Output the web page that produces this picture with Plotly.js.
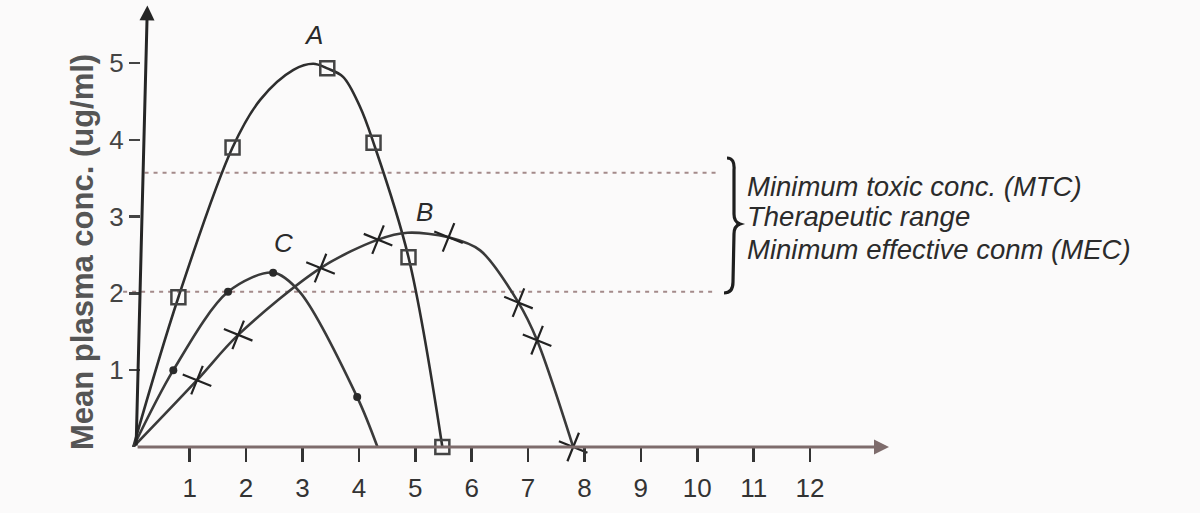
<!DOCTYPE html>
<html>
<head>
<meta charset="utf-8">
<script src="https://cdn.plot.ly/plotly-3.0.1.min.js"></script>
<style>html,body{margin:0;padding:0;background:#fbfafa;}</style>
</head>
<body>
<div id="chart" style="width:1200px;height:513px;"></div>
<script>
// ---- data (time in h, conc in ug/ml) ----
const xTicks = [1,2,3,4,5,6,7,8,9,10,11,12];
const yTicks = [1,2,3,4,5];

// Curve A (squares)
const aLineT = [0, 0.80, 1.76, 2.25, 2.84, 3.19, 3.44, 3.72, 4.02, 4.26, 4.88, 5.48];
const aLineC = [0, 1.95, 3.90, 4.52, 4.91, 4.99, 4.93, 4.82, 4.43, 3.96, 2.47, 0];
const aMarkT = [0.80, 1.76, 3.44, 4.26, 4.88, 5.48];
const aMarkC = [1.95, 3.90, 4.93, 3.96, 2.47, 0];

// Curve B (crosses)
const bLineT = [0, 1.13, 1.86, 3.32, 4.34, 4.86, 5.59, 6.15, 6.83, 7.16, 7.80];
const bLineC = [0, 0.87, 1.46, 2.33, 2.70, 2.79, 2.73, 2.56, 1.88, 1.39, 0];
const bMarkT = [1.13, 1.86, 3.32, 4.34, 5.59, 6.83, 7.16, 7.80];
const bMarkC = [0.87, 1.46, 2.33, 2.70, 2.73, 1.88, 1.39, 0];

// Curve C (dots)
const cLineT = [0, 0.71, 1.68, 2.48, 2.95, 3.97, 4.33];
const cLineC = [0, 1.00, 2.02, 2.27, 2.02, 0.65, 0];
const cMarkT = [0.71, 1.68, 2.48, 3.97];
const cMarkC = [1.00, 2.02, 2.27, 0.65];

// Reference levels
const mtcLevel = 3.57;
const mecLevel = 2.02;
const mtcSpan = [0.2, 10.37];
const mecSpan = [-0.18, 10.35];

const curveLabels = [
  {name: 'A', t: 3.19, c: 5.36},
  {name: 'B', t: 5.16, c: 3.06},
  {name: 'C', t: 2.66, c: 2.66}
];
const sideTexts = ['Minimum toxic conc. (MTC)', 'Therapeutic range', 'Minimum effective conm (MEC)'];
const yTitle = 'Mean plasma conc. (ug/ml)';

// ---- styling / layout ----
const W = 1200, H = 513;
const M = {l: 122, r: 311, t: 5, b: 66};
const pw = W - M.l - M.r, ph = H - M.t - M.b;
const px = x => (x - M.l) / pw;          // pixel -> paper x
const py = y => (H - M.b - y) / ph;       // pixel -> paper y

const lineCol = '#2e2e2e';
const dashCol = '#a48a8a';
const fontFam = 'Liberation Sans, Arial, sans-serif';

const traces = [
  {x: mtcSpan, y: [mtcLevel, mtcLevel], mode: 'lines', line: {color: dashCol, width: 2, dash: '4px,5px'}, hoverinfo: 'skip', cliponaxis: false},
  {x: mecSpan, y: [mecLevel, mecLevel], mode: 'lines', line: {color: dashCol, width: 2, dash: '4px,5px'}, hoverinfo: 'skip', cliponaxis: false},
  {x: aLineT, y: aLineC, mode: 'lines', line: {color: lineCol, width: 2.6, shape: 'spline', smoothing: 1}, cliponaxis: false},
  {x: bLineT, y: bLineC, mode: 'lines', line: {color: '#3a3a3a', width: 2.6, shape: 'spline', smoothing: 0.9}, cliponaxis: false},
  {x: cLineT, y: cLineC, mode: 'lines', line: {color: '#3a3a3a', width: 2.6, shape: 'spline', smoothing: 0.9}, cliponaxis: false},
  {x: aMarkT, y: aMarkC, mode: 'markers', marker: {symbol: 'square-open', size: 14, color: '#444', line: {width: 2.5, color: '#444'}}, cliponaxis: false},
  {x: bMarkT, y: bMarkC, mode: 'markers', marker: {symbol: 'cross-thin', size: 22, angle: 22, color: '#222', line: {width: 2.2, color: '#222'}}, cliponaxis: false},
  {x: cMarkT, y: cMarkC, mode: 'markers', marker: {symbol: 'circle', size: 8, color: '#2a2a2a'}, cliponaxis: false}
];

const annotations = [
  // x axis arrow
  {x: 13.4, y: 0, ax: 0.05, ay: 0, xref: 'x', yref: 'y', axref: 'x', ayref: 'y', text: '', showarrow: true,
   arrowhead: 2, arrowsize: 1, arrowwidth: 3, arrowcolor: '#7e6c6c', standoff: 0},
  // y axis arrow
  {x: 0.25, y: 5.75, ax: 0.05, ay: 0, xref: 'x', yref: 'y', axref: 'x', ayref: 'y', text: '', showarrow: true,
   arrowhead: 2, arrowsize: 1, arrowwidth: 3, arrowcolor: '#252525', standoff: 0},
  {x: px(82), y: py(252), xref: 'paper', yref: 'paper', text: yTitle, textangle: -90, showarrow: false,
   xanchor: 'center', yanchor: 'middle', font: {family: fontFam, size: 31, weight: 'bold', color: '#555'}}
];
curveLabels.forEach(l => annotations.push({x: l.t, y: l.c, xref: 'x', yref: 'y', text: l.name, showarrow: false,
  font: {family: fontFam, size: 26, style: 'italic', color: '#2a2a2a'}}));
const sideY = [186, 217, 249];
sideTexts.forEach((t, i) => annotations.push({x: px(745), y: py(sideY[i]), xref: 'paper', yref: 'paper', text: t,
  showarrow: false, xanchor: 'left', yanchor: 'middle', font: {family: fontFam, size: 27.5, style: 'italic', color: '#2b2b2b'}}));

const P = (x, y) => px(x).toFixed(5) + ',' + py(y).toFixed(5);
const bracePath = 'M' + P(727,158) + ' Q' + P(735,158) + ' ' + P(734,170) +
  ' L' + P(734,214) + ' Q' + P(734,222) + ' ' + P(740,224) + ' Q' + P(734,226) + ' ' + P(734,234) +
  ' L' + P(733,282) + ' Q' + P(733,293) + ' ' + P(724,293);

const layout = {
  width: W, height: H, margin: M, showlegend: false,
  paper_bgcolor: '#fbfafa', plot_bgcolor: '#fbfafa',
  xaxis: {range: [-0.2, 13.4], tickvals: xTicks, ticktext: xTicks.map(String), ticks: 'outside', ticklen: 14,
    tickwidth: 2.5, tickcolor: '#333', showgrid: false, zeroline: false, showline: false, ticklabelstandoff: 4,
    tickfont: {family: fontFam, size: 26, color: '#333'}, fixedrange: true},
  yaxis: {range: [0, 5.755], tickvals: yTicks, ticktext: yTicks.map(String), ticks: 'outside', ticklen: 11,
    tickwidth: 2.5, tickcolor: '#444', showgrid: false, zeroline: false, showline: false,
    anchor: 'free', position: px(140), tickfont: {family: fontFam, size: 26, color: '#444'}, fixedrange: true},
  annotations: annotations,
  shapes: [{type: 'path', xref: 'paper', yref: 'paper', path: bracePath, line: {color: '#1e1e1e', width: 3.2}}]
};

Plotly.newPlot('chart', traces, layout, {displayModeBar: false, staticPlot: true});
</script>
</body>
</html>
